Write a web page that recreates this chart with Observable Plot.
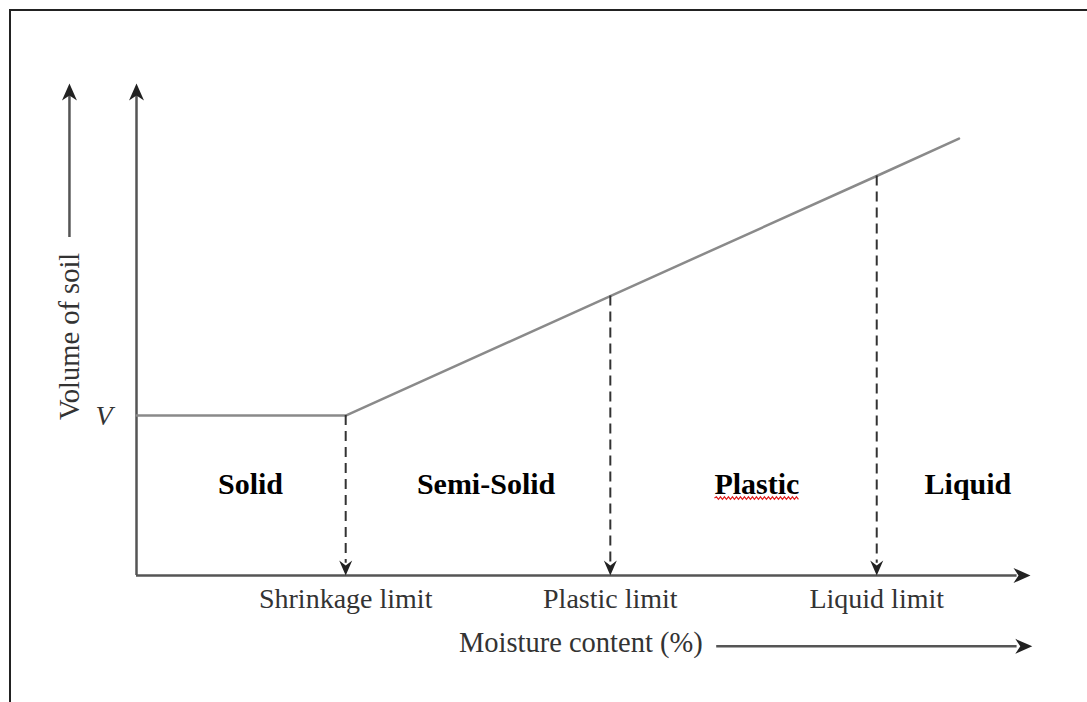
<!DOCTYPE html>
<html>
<head>
<meta charset="utf-8">
<script src="https://cdn.jsdelivr.net/npm/d3@7"></script>
<script src="https://cdn.jsdelivr.net/npm/@observablehq/plot@0.6"></script>
<style>
  html, body { margin: 0; padding: 0; background: #fff; }
  #wrap { position: relative; width: 1087px; height: 702px; overflow: hidden; }
  #frame { position: absolute; left: 9px; top: 9px; width: 1100px; height: 720px;
           border-top: 2px solid #222; border-left: 2px solid #222; box-sizing: border-box; }
  #chart { position: absolute; left: 0; top: 0; }
</style>
</head>
<body>
<div id="wrap"><div id="frame"></div><div id="chart"></div></div>
<script>
// ---- data (moisture content %, volume of soil, arbitrary units) ----
const limitNames = ["Shrinkage limit", "Plastic limit", "Liquid limit"];
const limitMoisture = [23.4, 53.0, 82.8];
const limitVolume = [32.5, 56.8, 81.2];
const curveMoisture = [0, 23.4, 53.0, 82.8, 92.0];
const curveVolume = [32.5, 32.5, 56.8, 81.2, 88.8];
const phaseNames = ["Solid", "Semi-Solid", "Plastic", "Liquid"];
const phaseMoisture = [12.75, 39.1, 69.4, 93.0];
const phaseVolume = [18.5, 18.5, 18.5, 18.5];
const volumeTicks = [32.5];
const volumeTickLabels = ["V"];

const curve = curveMoisture.map((x, i) => ({x, y: curveVolume[i]}));
const limits = limitMoisture.map((x, i) => ({x, y: limitVolume[i], name: limitNames[i]}));
const phases = phaseNames.map((name, i) => ({name, x: phaseMoisture[i], y: phaseVolume[i]}));

// stealth arrowhead symbol, tip at the anchor point, pointing up
const head = (w, l, n) => ({
  draw(ctx) {
    ctx.moveTo(0, 0);
    ctx.lineTo(w, l);
    ctx.lineTo(0, n);
    ctx.lineTo(-w, l);
    ctx.closePath();
  }
});
const bigHead = head(7.5, 17, 12);
const smallHead = head(6.5, 15, 10);

const serif = "Liberation Serif, Times New Roman, serif";
const axisColor = "#555";

const plot = Plot.plot({
  width: 1087,
  height: 702,
  marginLeft: 136,
  marginRight: 57,
  marginTop: 83,
  marginBottom: 127,
  x: {domain: [0, 100]},
  y: {domain: [0, 100]},
  style: {fontFamily: serif, background: "transparent", overflow: "visible"},
  marks: [
    // axes lines with arrowheads
    Plot.ruleX([0], {y1: 0, y2: 98, stroke: axisColor, strokeWidth: 2.5}),
    Plot.ruleY([0], {x1: 0, x2: 98.5, stroke: axisColor, strokeWidth: 2.5}),
    Plot.dot([{x: 0, y: 100}], {x: "x", y: "y", symbol: bigHead, fill: "#222", stroke: "none"}),
    Plot.dot([{x: 100, y: 0}], {x: "x", y: "y", symbol: bigHead, rotate: 90, fill: "#222", stroke: "none"}),
    // "Volume of soil" arrow on the left
    Plot.ruleX([-7.5], {y1: 68.7, y2: 98, stroke: axisColor, strokeWidth: 2.5}),
    Plot.dot([{x: -7.5, y: 100}], {x: "x", y: "y", symbol: bigHead, fill: "#222", stroke: "none"}),
    Plot.text(["Volume of soil"], {x: -7.5, y: 48.6, rotate: -90, fontSize: 28.5, fill: "#333", fontFamily: serif}),
    // "Moisture content (%)" with arrow
    Plot.text(["Moisture content (%)"], {x: 49.7, y: -13.7, fontSize: 28.5, fill: "#333", fontFamily: serif}),
    Plot.ruleY([-14.4], {x1: 64.9, x2: 98.5, stroke: axisColor, strokeWidth: 2.5}),
    Plot.dot([{x: 100.2, y: -14.4}], {x: "x", y: "y", symbol: bigHead, rotate: 90, fill: "#222", stroke: "none"}),
    // volume curve
    Plot.line(curve, {x: "x", y: "y", stroke: "#8a8a8a", strokeWidth: 2.5}),
    // dashed drop lines to the limits
    Plot.ruleX(limits, {x: "x", y1: "y", y2: 2.5, stroke: "#333", strokeWidth: 2, strokeDasharray: "10,6"}),
    Plot.dot(limits, {x: "x", y: 0, symbol: smallHead, rotate: 180, fill: "#222", stroke: "none"}),
    // phase names
    Plot.text(phases, {x: "x", y: "y", text: "name", fontSize: 30, fontWeight: "bold", fill: "#000", fontFamily: serif}),
    // axes tick labels
    Plot.axisX(limitMoisture, {tickSize: 0, tickPadding: 13, tickFormat: (d, i) => limitNames[i], fontSize: 28, fill: "#333", label: null, fontFamily: serif}),
    Plot.axisY(volumeTicks, {tickSize: 0, tickPadding: 24, tickFormat: (d, i) => volumeTickLabels[i], fontSize: 28, fontStyle: "italic", fill: "#333", label: null, fontFamily: serif})
  ]
});
document.getElementById("chart").appendChild(plot);

// spell-check style red squiggle under "Plastic" (decoration sized from the text's own box)
d3.select(plot).selectAll("text").filter(function() { return this.textContent === "Plastic"; })
  .each(function() {
    const b = this.getBBox();
    const yBase = b.y + b.height - 2;
    const p = d3.path();
    p.moveTo(b.x, yBase);
    let up = true;
    for (let x = b.x + 2; x <= b.x + b.width; x += 2) {
      p.lineTo(x, yBase + (up ? -1.3 : 1.3));
      up = !up;
    }
    const sq = document.createElementNS("http://www.w3.org/2000/svg", "path");
    sq.setAttribute("d", p.toString());
    sq.setAttribute("fill", "none");
    sq.setAttribute("stroke", "#e02020");
    sq.setAttribute("stroke-width", "1.2");
    if (this.getAttribute("transform")) sq.setAttribute("transform", this.getAttribute("transform"));
    this.parentNode.insertBefore(sq, this.nextSibling);
  });
</script>
</body>
</html>
